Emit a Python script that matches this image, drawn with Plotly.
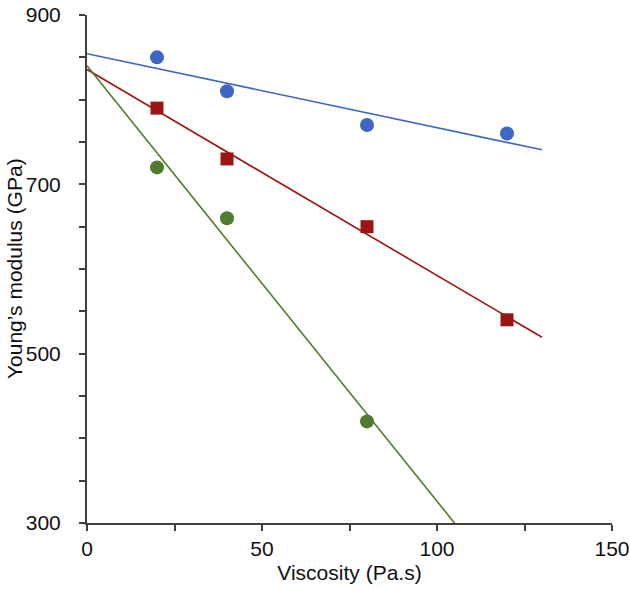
import numpy as np
import plotly.graph_objects as go

blue_x = [20, 40, 80, 120]
blue_y = [850, 810, 770, 760]
red_x = [20, 40, 80, 120]
red_y = [790, 730, 650, 540]
green_x = [20, 40, 80]
green_y = [720, 660, 420]

series = [
    ("blue", blue_x, blue_y, "#3F66C2", "circle"),
    ("red", red_x, red_y, "#9E1414", "square"),
    ("green", green_x, green_y, "#507A2E", "circle"),
]

fig = go.Figure()
trend_x = np.array([0, 130])
for name, xs, ys, col, sym in series:
    m, b = np.polyfit(xs, ys, 1)
    fig.add_trace(go.Scatter(x=trend_x, y=m * trend_x + b, mode="lines",
                             line=dict(color=col, width=1.6), showlegend=False,
                             hoverinfo="skip"))
for name, xs, ys, col, sym in series:
    fig.add_trace(go.Scatter(x=xs, y=ys, mode="markers",
                             marker=dict(color=col, symbol=sym, size=13 if sym == "square" else 14,
                                         line=dict(width=0)),
                             showlegend=False, name=name))

axis_col = "#404040"
fs = 21
fig.update_layout(
    width=630, height=590,
    margin=dict(l=87, r=18, t=15, b=67),
    plot_bgcolor="white", paper_bgcolor="white",
    font=dict(family="Liberation Sans, Arial", size=fs, color="#111111"),
    xaxis=dict(range=[0, 150], dtick=50, tick0=0, showgrid=False, zeroline=False,
               automargin=False,
               showline=True, linecolor=axis_col, linewidth=2,
               ticks="outside", ticklen=6, tickwidth=1.5, tickcolor=axis_col,
               ticklabelstandoff=0, tickfont=dict(size=fs),
               minor=dict(dtick=25, ticks="outside", ticklen=6, tickwidth=1.5, tickcolor=axis_col, showgrid=False),
               title=dict(text="Viscosity (Pa.s)", standoff=6, font=dict(size=fs))),
    yaxis=dict(range=[300, 900], dtick=200, tick0=300, showgrid=False, zeroline=False,
               automargin=False,
               showline=True, linecolor=axis_col, linewidth=2,
               ticks="outside", ticklen=6, tickwidth=1.5, tickcolor=axis_col,
               ticklabelstandoff=14, tickfont=dict(size=fs),
               minor=dict(dtick=50, ticks="outside", ticklen=6, tickwidth=1.5, tickcolor=axis_col, showgrid=False)),
)
fig.add_annotation(text="Young’s modulus (GPa)", textangle=-90, showarrow=False,
                   xref="paper", yref="paper", x=(14 - 87) / 525, y=0.5,
                   xanchor="center", yanchor="middle", font=dict(size=fs))
fig.write_html("out.html")
